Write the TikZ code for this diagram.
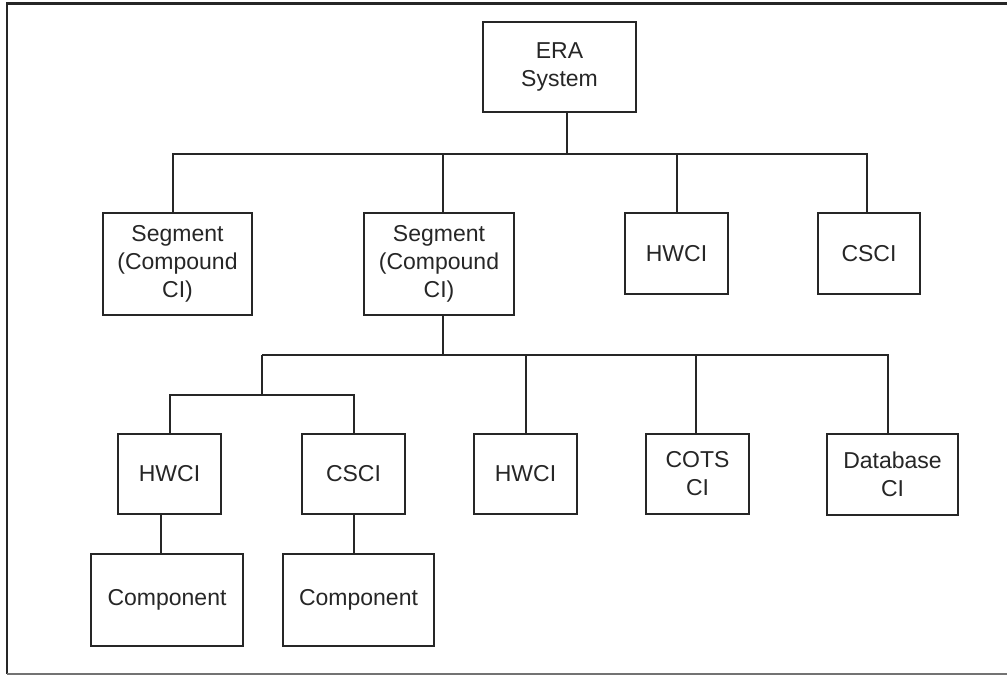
\documentclass[tikz,border=0pt]{standalone}
\usepackage{fontspec}
\setmainfont{Liberation Sans}
\begin{document}
\begin{tikzpicture}[x=1pt,y=1pt,
  ci/.style={draw=black!85, line width=1.8pt, fill=white, align=center,
    inner sep=0pt, font=\fontsize{23}{28}\selectfont, text=black!85},
  link/.style={draw=black!85, line width=2pt}]
\useasboundingbox (0,0) rectangle (1007,-675);

% page frame (open on the right)
\begin{scope}
\clip (0,0) rectangle (1007,-675);
\draw[black!85, line width=2.4pt] (1012,-3.5) -- (7,-3.5) -- (7,-673.5);
\draw[black!55, line width=1.5pt] (7,-673.8) -- (1012,-673.8);
\end{scope}

% top level
\node[ci, minimum width=153pt, minimum height=90pt] (era) at (559.5,-67) {ERA\\System};

% second level
\node[ci, minimum width=149pt, minimum height=102pt] (seg1) at (177.5,-264) {Segment\\(Compound\\CI)};
\node[ci, minimum width=150pt, minimum height=102pt] (seg2) at (439,-264) {Segment\\(Compound\\CI)};
\node[ci, minimum width=103pt, minimum height=81pt] (hw1) at (676.5,-253.5) {HWCI};
\node[ci, minimum width=102pt, minimum height=81pt] (cs1) at (869,-253.5) {CSCI};

% third level
\node[ci, minimum width=103pt, minimum height=80pt] (hw2) at (169.5,-474) {HWCI};
\node[ci, minimum width=103pt, minimum height=80pt] (cs2) at (353.5,-474) {CSCI};
\node[ci, minimum width=103pt, minimum height=80pt] (hw3) at (525.5,-474) {HWCI};
\node[ci, minimum width=103pt, minimum height=80pt] (cots) at (697.5,-474) {COTS\\CI};
\node[ci, minimum width=131pt, minimum height=81pt] (db) at (892.5,-474.5) {Database\\CI};

% fourth level
\node[ci, minimum width=152pt, minimum height=92pt] (comp1) at (167,-600) {Component};
\node[ci, minimum width=151pt, minimum height=92pt] (comp2) at (358.5,-600) {Component};

% system tree
\coordinate (j0) at ([xshift=7pt,yshift=-41pt]era.south);
\draw[link] ([xshift=7pt]era.south) -- (j0);
\draw[link] (j0) -| ([xshift=-4.5pt]seg1.north);
\draw[link] (j0) -| ([xshift=4pt]seg2.north);
\draw[link] (j0) -| (hw1.north);
\draw[link] (j0) -| ([xshift=-2pt]cs1.north);

% segment tree
\coordinate (j1) at ([xshift=4pt,yshift=-39pt]seg2.south);
\draw[link] ([xshift=4pt]seg2.south) -- (j1);
\coordinate (j2) at ([xshift=-181pt]j1);
\draw[link] (j1) -- (j2);
\draw[link] (j1) -| (hw3.north);
\draw[link] (j1) -| ([xshift=-1.5pt]cots.north);
\draw[link] (j1) -| ([xshift=-4.5pt]db.north);
\coordinate (j3) at ([yshift=-40pt]j2);
\draw[link] (j2) -- (j3);
\draw[link] (j3) -| (hw2.north);
\draw[link] (j3) -| (cs2.north);

% components
\draw[link] ([xshift=-8.5pt]hw2.south) -- ([xshift=-6pt]comp1.north);
\draw[link] (cs2.south) -- ([xshift=-5pt]comp2.north);
\end{tikzpicture}
\end{document}
